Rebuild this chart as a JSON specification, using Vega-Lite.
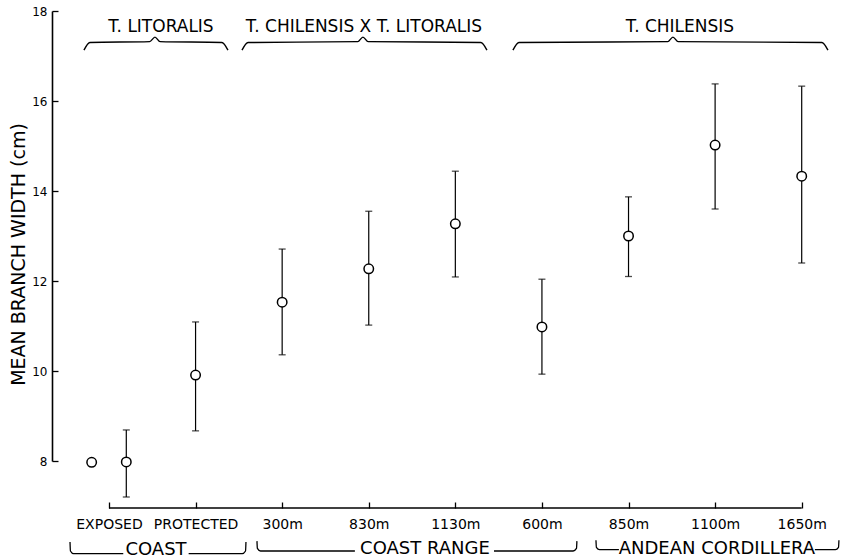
{
  "$schema": "https://vega.github.io/schema/vega-lite/v6.json",
  "width": 793,
  "height": 450,
  "autosize": {"type": "none"},
  "padding": {"left": 52, "top": 11, "right": 2, "bottom": 99},
  "background": "white",
  "config": {
    "view": {"stroke": null},
    "font": "DejaVu Sans",
    "axis": {"grid": false, "labelColor": "black", "titleColor": "black", "domainColor": "black", "tickColor": "black"},
    "axisX": {
      "offset": 47, "domain": false, "tickSize": -6, "tickWidth": 1.3,
      "labelPadding": 15, "labelFontSize": 14, "labelOverlap": false, "labelFlush": false, "labelBound": false
    },
    "axisY": {
      "tickSize": -6, "tickWidth": 1.3, "domainWidth": 1.6,
      "labelPadding": 11, "labelFontSize": 12,
      "titleFontSize": 19, "titleFontWeight": "normal",
      "titleX": -34, "titleY": 243, "titleBaseline": "middle", "titleAngle": 270
    }
  },
  "datasets": {
    "points": [
      {"site": "EXPOSED", "x": -0.2, "mean": 7.97},
      {"site": "EXPOSED", "x": 0.2, "mean": 7.98, "lo": 7.2, "hi": 8.69},
      {"site": "PROTECTED", "x": 1, "mean": 9.91, "lo": 8.67, "hi": 11.09},
      {"site": "300m", "x": 2, "mean": 11.53, "lo": 10.36, "hi": 12.71},
      {"site": "830m", "x": 3, "mean": 12.27, "lo": 11.02, "hi": 13.55},
      {"site": "1130m", "x": 4, "mean": 13.27, "lo": 12.09, "hi": 14.44},
      {"site": "600m", "x": 5, "mean": 10.98, "lo": 9.93, "hi": 12.04},
      {"site": "850m", "x": 6, "mean": 13.0, "lo": 12.1, "hi": 13.87},
      {"site": "1100m", "x": 7, "mean": 15.02, "lo": 13.6, "hi": 16.38},
      {"site": "1650m", "x": 8, "mean": 14.33, "lo": 12.4, "hi": 16.33}
    ],
    "braces": [
      {"b": "lit", "x": -0.289, "y": 17.13}, {"b": "lit", "x": -0.22, "y": 17.3}, {"b": "lit", "x": 0.47, "y": 17.32}, {"b": "lit", "x": 0.531, "y": 17.42}, {"b": "lit", "x": 0.59, "y": 17.32}, {"b": "lit", "x": 1.304, "y": 17.3}, {"b": "lit", "x": 1.374, "y": 17.13},
      {"b": "chxl", "x": 1.536, "y": 17.13}, {"b": "chxl", "x": 1.606, "y": 17.3}, {"b": "chxl", "x": 2.873, "y": 17.32}, {"b": "chxl", "x": 2.933, "y": 17.42}, {"b": "chxl", "x": 2.993, "y": 17.32}, {"b": "chxl", "x": 4.295, "y": 17.3}, {"b": "chxl", "x": 4.365, "y": 17.13},
      {"b": "chi", "x": 4.665, "y": 17.13}, {"b": "chi", "x": 4.735, "y": 17.3}, {"b": "chi", "x": 6.453, "y": 17.32}, {"b": "chi", "x": 6.513, "y": 17.42}, {"b": "chi", "x": 6.573, "y": 17.32}, {"b": "chi", "x": 8.233, "y": 17.3}, {"b": "chi", "x": 8.303, "y": 17.13}
    ],
    "brackets": [
      {"b": "coastL", "x": -0.45, "y": 6.2}, {"b": "coastL", "x": -0.445, "y": 6.0}, {"b": "coastL", "x": -0.41, "y": 5.94}, {"b": "coastL", "x": 0.165, "y": 5.94},
      {"b": "coastR", "x": 0.92, "y": 5.94}, {"b": "coastR", "x": 1.54, "y": 5.94}, {"b": "coastR", "x": 1.577, "y": 6.0}, {"b": "coastR", "x": 1.582, "y": 6.2},
      {"b": "rangeL", "x": 1.709, "y": 6.22}, {"b": "rangeL", "x": 1.714, "y": 6.06}, {"b": "rangeL", "x": 1.75, "y": 6.0}, {"b": "rangeL", "x": 2.84, "y": 6.0},
      {"b": "rangeR", "x": 4.446, "y": 6.0}, {"b": "rangeR", "x": 5.36, "y": 6.0}, {"b": "rangeR", "x": 5.399, "y": 6.06}, {"b": "rangeR", "x": 5.404, "y": 6.22},
      {"b": "andL", "x": 5.624, "y": 6.24}, {"b": "andL", "x": 5.629, "y": 6.08}, {"b": "andL", "x": 5.665, "y": 6.03}, {"b": "andL", "x": 5.889, "y": 6.03},
      {"b": "andR", "x": 8.152, "y": 6.03}, {"b": "andR", "x": 8.39, "y": 6.03}, {"b": "andR", "x": 8.425, "y": 6.08}, {"b": "andR", "x": 8.43, "y": 6.24}
    ],
    "axisline": [
      {"x": 0, "x2": 8, "y": 6.956}
    ],
    "toplabels": [
      {"label": "T. LITORALIS", "x": 0.6, "y": 17.644},
      {"label": "T. CHILENSIS X T. LITORALIS", "x": 2.945, "y": 17.644},
      {"label": "T. CHILENSIS", "x": 6.594, "y": 17.644}
    ],
    "bottomlabels": [
      {"label": "COAST", "x": 0.543, "y": 6.03},
      {"label": "COAST RANGE", "x": 3.649, "y": 6.044},
      {"label": "ANDEAN CORDILLERA", "x": 7.021, "y": 6.044}
    ]
  },
  "encoding": {
    "x": {
      "field": "x", "type": "quantitative", "title": null,
      "scale": {"domain": [-0.658, 8.5], "nice": false, "zero": false},
      "axis": {
        "values": [0, 1, 2, 3, 4, 5, 6, 7, 8],
        "labelExpr": "datum.value == 0 ? 'EXPOSED' : datum.value == 1 ? 'PROTECTED' : datum.value == 2 ? '300m' : datum.value == 3 ? '830m' : datum.value == 4 ? '1130m' : datum.value == 5 ? '600m' : datum.value == 6 ? '850m' : datum.value == 7 ? '1100m' : '1650m'"
      }
    }
  },
  "layer": [
    {
      "data": {"name": "points"},
      "mark": {"type": "rule", "color": "black", "strokeWidth": 1.2},
      "encoding": {
        "y": {"field": "lo", "type": "quantitative", "title": "MEAN BRANCH WIDTH (cm)", "scale": {"domain": [8, 18], "nice": false, "zero": false}, "axis": {"values": [8, 10, 12, 14, 16, 18]}},
        "y2": {"field": "hi"}
      }
    },
    {
      "data": {"name": "points"},
      "transform": [{"filter": "isValid(datum.lo)"}, {"fold": ["lo", "hi"], "as": ["end", "val"]}],
      "mark": {"type": "tick", "color": "black", "orient": "horizontal", "size": 7, "thickness": 1.3},
      "encoding": {
        "y": {"field": "val", "type": "quantitative", "title": "MEAN BRANCH WIDTH (cm)", "axis": {"values": [8, 10, 12, 14, 16, 18]}}
      }
    },
    {
      "data": {"name": "points"},
      "mark": {"type": "point", "shape": "circle", "filled": false, "fill": "white", "fillOpacity": 1, "stroke": "black", "strokeWidth": 1.5, "size": 90, "opacity": 1},
      "encoding": {
        "y": {"field": "mean", "type": "quantitative", "title": "MEAN BRANCH WIDTH (cm)", "axis": {"values": [8, 10, 12, 14, 16, 18]}}
      }
    },
    {
      "data": {"name": "axisline"},
      "mark": {"type": "rule", "color": "black", "strokeWidth": 1.5},
      "encoding": {
        "x2": {"field": "x2"},
        "y": {"field": "y", "type": "quantitative", "title": "MEAN BRANCH WIDTH (cm)", "axis": {"values": [8, 10, 12, 14, 16, 18]}}
      }
    },
    {
      "data": {"name": "braces"},
      "mark": {"type": "line", "color": "black", "strokeWidth": 1.4, "interpolate": "monotone"},
      "encoding": {
        "y": {"field": "y", "type": "quantitative", "title": "MEAN BRANCH WIDTH (cm)", "axis": {"values": [8, 10, 12, 14, 16, 18]}},
        "detail": {"field": "b"}
      }
    },
    {
      "data": {"name": "brackets"},
      "mark": {"type": "line", "color": "black", "strokeWidth": 1.3, "interpolate": "monotone"},
      "encoding": {
        "y": {"field": "y", "type": "quantitative", "title": "MEAN BRANCH WIDTH (cm)", "axis": {"values": [8, 10, 12, 14, 16, 18]}},
        "detail": {"field": "b"}
      }
    },
    {
      "data": {"name": "toplabels"},
      "mark": {"type": "text", "fontSize": 17, "color": "black", "align": "center", "baseline": "middle"},
      "encoding": {
        "y": {"field": "y", "type": "quantitative", "title": "MEAN BRANCH WIDTH (cm)", "axis": {"values": [8, 10, 12, 14, 16, 18]}},
        "text": {"field": "label"}
      }
    },
    {
      "data": {"name": "bottomlabels"},
      "mark": {"type": "text", "fontSize": 18, "color": "black", "align": "center", "baseline": "middle"},
      "encoding": {
        "y": {"field": "y", "type": "quantitative", "title": "MEAN BRANCH WIDTH (cm)", "axis": {"values": [8, 10, 12, 14, 16, 18]}},
        "text": {"field": "label"}
      }
    }
  ]
}
